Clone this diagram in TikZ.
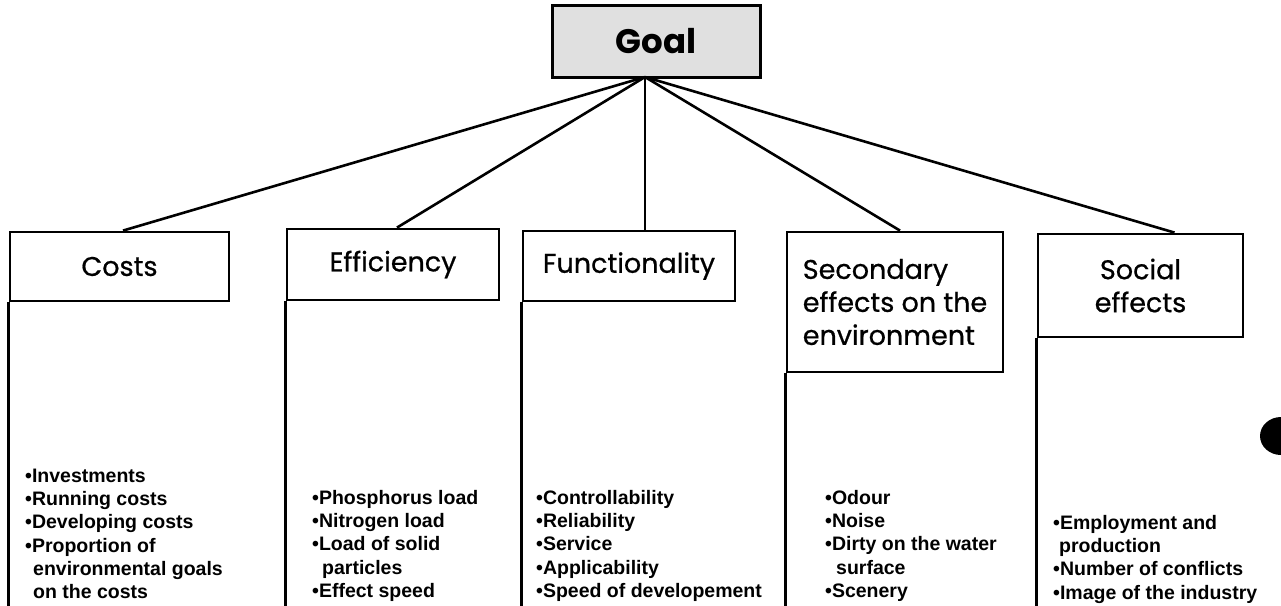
\documentclass[tikz,border=0pt]{standalone}
\usepackage{fontspec}
\setmainfont{Liberation Sans}
\newfontfamily\geofont{Poppins}[FakeBold=0.7]
\newfontfamily\goalfont{Poppins}
\begin{document}
\begin{tikzpicture}[x=1pt,y=-1pt,
  goalbox/.style={draw, line width=3pt, fill=black!12, inner sep=0pt,
    minimum width=208pt, minimum height=72pt,
    font=\goalfont\bfseries\fontsize{34}{40}\selectfont},
  hdrbox/.style={draw, line width=2.8pt, inner sep=0pt, align=center,
    font=\geofont\fontsize{27}{33}\selectfont},
  link/.style={line width=2.6pt},
  column/.style={line width=2.8pt},
  items/.style={anchor=north west, inner sep=0pt, align=left,
    font=\bfseries\fontsize{19.5}{23.3}\selectfont}]
\useasboundingbox (0,0) rectangle (1281,605);
\clip (0,0) rectangle (1281,605);
\fill[white] (0,0) rectangle (1281,605);

% top goal
\node[goalbox] (goal) at (656,41) {Goal};
\coordinate (hub) at (645,77);
\coordinate (bottom) at (0,610);

% criterion headers
\node[hdrbox, minimum width=219pt, minimum height=69pt] (costs) at (119.5,266.5) {Costs};
\node[hdrbox, minimum width=212pt, minimum height=71pt] (eff) at (393,264.5) {Efficiency};
\node[hdrbox, minimum width=212pt, minimum height=70pt] (func) at (629,266) {Functionality};
\node[hdrbox, minimum width=216pt, minimum height=140pt, align=left] (sec) at (895,302) {Secondary\\effects on the\\environment};
\node[hdrbox, minimum width=205pt, minimum height=103pt] (soc) at (1140.5,285.5) {Social\\effects};

% links from the goal to each header
\draw[link] (hub) -- ([xshift=3.5pt]costs.north);
\draw[link] (hub) -- ([xshift=4pt]eff.north);
\draw[link, line width=1.8pt] (hub) -- ([xshift=16pt]func.north);
\draw[link] (hub) -- ([xshift=5pt]sec.north);
\draw[link] (hub) -- ([xshift=34pt]soc.north);

% column rules under the headers
\foreach \c in {costs,eff,func,sec,soc}
  \draw[column] (\c.south west) -- (\c.south west |- bottom);

% item lists
\node[items] (costsitems) at (25,465.7) {\strut•Investments\\•Running costs\\•Developing costs\\•Proportion of\\\hspace*{8pt}environmental goals\\\hspace*{8pt}on the costs};
\node[items] (effitems) at (312,487.7) {\strut•Phosphorus load\\•Nitrogen load\\•Load of solid\\\hspace*{10pt}particles\\•Effect speed};
\node[items] (funcitems) at (536,487.7) {\strut•Controllability\\•Reliability\\•Service\\•Applicability\\•Speed of developement};
\node[items] (secitems) at (825,487.7) {\strut•Odour\\•Noise\\•Dirty on the water\\\hspace*{11pt}surface\\•Scenery};
\node[items] (socitems) at (1053,512.7) {\strut•Employment and\\\hspace*{6pt}production\\•Number of conflicts\\•Image of the industry};

% page mark at the right edge
\fill[black] (1281,436) ellipse[x radius=21pt, y radius=19pt];
\end{tikzpicture}
\end{document}
